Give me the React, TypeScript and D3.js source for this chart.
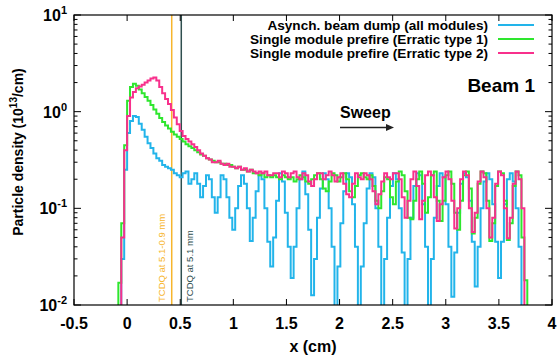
import React from 'react';
import * as d3 from 'd3';

const BIN_START = -0.11;
const BIN_WIDTH = 0.0275;

const asyncDump = [
  0, 0, 0.03, 0.25, 0.6, 0.8, 0.9, 0.88, 0.75, 0.65,
  0.55, 0.47, 0.42, 0.37, 0.33, 0.31, 0.28, 0.27, 0.26, 0.25,
  0.23, 0.22, 0.21, 0.23, 0.24, 0.18, 0.2, 0.23, 0.18, 0.13,
  0.17, 0.22, 0.2, 0.13, 0.09, 0.13, 0.22, 0.2, 0.13, 0.08,
  0.06, 0.1, 0.17, 0.22, 0.18, 0.1, 0.046, 0.08, 0.15, 0.22,
  0.2, 0.1, 0.045, 0.025, 0.05, 0.12, 0.23, 0.19, 0.09, 0.04,
  0.019, 0.04, 0.1, 0.2, 0.24, 0.14, 0.06, 0.0126, 0.03, 0.08,
  0.16, 0.23, 0.2, 0.1, 0.04, 0.005, 0.025, 0.07, 0.15, 0.23,
  0.21, 0.11, 0.04, 0.005, 0.025, 0.07, 0.16, 0.23, 0.21, 0.1,
  0.04, 0.005, 0.03, 0.08, 0.17, 0.23, 0.2, 0.1, 0.035, 0.005,
  0.03, 0.08, 0.17, 0.23, 0.22, 0.11, 0.04, 0.005, 0.03, 0.08,
  0.17, 0.23, 0.21, 0.11, 0.04, 0.0122, 0.035, 0.09, 0.18, 0.23,
  0.21, 0.12, 0.045, 0.0155, 0.04, 0.1, 0.19, 0.23, 0.2, 0.11,
  0.045, 0.019, 0.045, 0.11, 0.2, 0.23, 0.19, 0.1, 0.04, 0,
  0,
];

const erratic1 = [
  0, 0.017, 0.07, 0.45, 1.3, 1.8, 1.95, 1.85, 1.7, 1.55,
  1.42, 1.3, 1.17, 1.05, 0.95, 0.86, 0.78, 0.72, 0.67, 0.62,
  0.58, 0.55, 0.52, 0.49, 0.46, 0.44, 0.42, 0.4, 0.38, 0.36,
  0.35, 0.33, 0.32, 0.31, 0.3, 0.3, 0.29, 0.29, 0.28, 0.28,
  0.27, 0.26, 0.27, 0.25, 0.25, 0.24, 0.25, 0.23, 0.23, 0.22,
  0.23, 0.21, 0.22, 0.21, 0.22, 0.21, 0.2, 0.22, 0.21, 0.2,
  0.21, 0.19, 0.2, 0.22, 0.21, 0.19, 0.18, 0.2, 0.22, 0.23,
  0.2, 0.16, 0.15, 0.19, 0.23, 0.22, 0.19, 0.21, 0.23, 0.2,
  0.15, 0.13, 0.17, 0.22, 0.23, 0.21, 0.2, 0.22, 0.17, 0.12,
  0.1, 0.15, 0.21, 0.2, 0.13, 0.11, 0.19, 0.24, 0.22, 0.15,
  0.08, 0.077, 0.12, 0.2, 0.24, 0.18, 0.09, 0.13, 0.22, 0.24,
  0.12, 0.074, 0.12, 0.22, 0.24, 0.18, 0.09, 0.06, 0.12, 0.22,
  0.24, 0.16, 0.055, 0.08, 0.18, 0.24, 0.23, 0.12, 0.046, 0.07,
  0.17, 0.24, 0.23, 0.12, 0.047, 0.07, 0.17, 0.24, 0.22, 0.05,
  0.018,
];

const erratic2 = [
  0, 0, 0.05, 0.4, 0.9, 1.4, 1.6, 1.75, 1.82, 1.9,
  2.0, 2.1, 2.2, 2.25, 2.1, 1.8, 1.55, 1.35, 1.2, 1.04,
  0.87, 0.74, 0.63, 0.56, 0.52, 0.49, 0.46, 0.43, 0.4, 0.37,
  0.35, 0.33, 0.32, 0.3, 0.3, 0.31, 0.29, 0.28, 0.29, 0.27,
  0.27, 0.26, 0.27, 0.25, 0.26, 0.24, 0.25, 0.24, 0.23, 0.24,
  0.23, 0.24, 0.22, 0.22, 0.23, 0.23, 0.21, 0.24, 0.23, 0.21,
  0.23, 0.24, 0.21, 0.2, 0.23, 0.22, 0.19, 0.17, 0.2, 0.23,
  0.23, 0.2, 0.22, 0.24, 0.22, 0.19, 0.21, 0.23, 0.18, 0.14,
  0.13, 0.18, 0.23, 0.21, 0.2, 0.23, 0.22, 0.2, 0.15, 0.11,
  0.14, 0.19, 0.23, 0.21, 0.2, 0.23, 0.23, 0.2, 0.13, 0.08,
  0.12, 0.2, 0.24, 0.17, 0.077, 0.12, 0.22, 0.24, 0.22, 0.13,
  0.074, 0.11, 0.21, 0.24, 0.2, 0.12, 0.062, 0.1, 0.2, 0.24,
  0.22, 0.1, 0.057, 0.09, 0.19, 0.24, 0.21, 0.1, 0.05, 0.08,
  0.18, 0.24, 0.22, 0.1, 0.049, 0.08, 0.18, 0.24, 0.2, 0.1,
  0,
];

const xTicks = [-0.5, 0, 0.5, 1, 1.5, 2, 2.5, 3, 3.5, 4];
const yDecades = [-2, -1, 0, 1];
const legendLabels = [
  'Asynch. beam dump (all modules)',
  'Single module prefire (Erratic type 1)',
  'Single module prefire (Erratic type 2)',
];
const seriesColors = ['#22b4ea', '#2ee62e', '#f8308c'];
const TCDQ_POS = 0.51;
const TCDQ_SHIFTED = 0.42;

const FONT = "'Liberation Sans', Arial, Helvetica, sans-serif";

export default function App() {
  const W = 559;
  const H = 356;
  const L = 74, R = 552, T = 15, B = 305;

  const x = d3.scaleLinear().domain([-0.5, 4]).range([L, R]);
  const y = d3.scaleLog().domain([0.01, 10]).range([B, T]);

  const stepPath = (vals: number[]) => {
    const pts: [number, number][] = vals.map((v, i) => [BIN_START + i * BIN_WIDTH, v]);
    pts.push([BIN_START + vals.length * BIN_WIDTH, 0]);
    const line = d3
      .line<[number, number]>()
      .x((d) => x(d[0]))
      .y((d) => y(Math.max(d[1], 0.001)))
      .curve(d3.curveStepAfter);
    return line(pts) || '';
  };

  const series = [asyncDump, erratic1, erratic2];

  const minorTicks: number[] = [];
  [-2, -1, 0].forEach((d) => {
    for (let k = 2; k <= 9; k++) minorTicks.push(k * Math.pow(10, d));
  });

  return (
    <div style={{ position: 'fixed', left: 0, top: 0 }}>
      <svg width={W} height={H} style={{ display: 'block', background: '#fff' }} fontFamily={FONT}>
        <defs>
          <clipPath id="plotClip">
            <rect x={L} y={T} width={R - L} height={B - T} />
          </clipPath>
        </defs>

        {/* vertical TCDQ lines */}
        <line x1={x(TCDQ_SHIFTED)} x2={x(TCDQ_SHIFTED)} y1={T} y2={B} stroke="#f7b52c" strokeWidth={1.5} />
        <line x1={x(TCDQ_POS)} x2={x(TCDQ_POS)} y1={T} y2={B} stroke="#2f4f4f" strokeWidth={1.5} />
        <text
          transform={`translate(${x(TCDQ_SHIFTED) - 6.5},${B - 3}) rotate(-90)`}
          fontSize={9.5}
          fill="#f7b52c"
        >
          TCDQ at 5.1-0.9 mm
        </text>
        <text
          transform={`translate(${x(TCDQ_POS) + 12},${B - 3}) rotate(-90)`}
          fontSize={9.5}
          fill="#2f4f4f"
        >
          TCDQ at 5.1 mm
        </text>

        {/* data */}
        <g clipPath="url(#plotClip)">
          {series.map((s, i) => (
            <path key={i} d={stepPath(s)} fill="none" stroke={seriesColors[i]} strokeWidth={2} strokeLinejoin="miter" />
          ))}
        </g>

        {/* frame */}
        <rect x={L} y={T} width={R - L} height={B - T} fill="none" stroke="#000" strokeWidth={1.2} />

        {/* x ticks */}
        {xTicks.map((t) => (
          <g key={'xt' + t}>
            <line x1={x(t)} x2={x(t)} y1={B} y2={B - 6} stroke="#000" />
            <line x1={x(t)} x2={x(t)} y1={T} y2={T + 6} stroke="#000" />
            <text x={x(t)} y={329} textAnchor="middle" fontSize={16} fontWeight="bold">
              {String(t)}
            </text>
          </g>
        ))}

        {/* y ticks */}
        {yDecades.map((d) => (
          <g key={'yt' + d}>
            <line x1={L} x2={L + 7} y1={y(Math.pow(10, d))} y2={y(Math.pow(10, d))} stroke="#000" />
            <line x1={R} x2={R - 7} y1={y(Math.pow(10, d))} y2={y(Math.pow(10, d))} stroke="#000" />
            <text x={67} y={y(Math.pow(10, d)) + 6} textAnchor="end" fontSize={16} fontWeight="bold">
              <tspan>10</tspan>
              <tspan dy={-7} fontSize={11}>{String(d)}</tspan>
            </text>
          </g>
        ))}
        {minorTicks.map((v, i) => (
          <g key={'ym' + i}>
            <line x1={L} x2={L + 3.5} y1={y(v)} y2={y(v)} stroke="#000" />
            <line x1={R} x2={R - 3.5} y1={y(v)} y2={y(v)} stroke="#000" />
          </g>
        ))}

        {/* axis titles */}
        <text x={313} y={352} textAnchor="middle" fontSize={16} fontWeight="bold">
          x (cm)
        </text>
        <text transform="translate(23,152) rotate(-90)" textAnchor="middle" fontSize={14} fontWeight="bold">
          <tspan>Particle density (10</tspan>
          <tspan dy={-6} fontSize={10}>13</tspan>
          <tspan dy={6}>/cm)</tspan>
        </text>

        {/* legend */}
        {legendLabels.map((lab, i) => (
          <g key={'lg' + i}>
            <text x={488} y={29.5 + i * 14} textAnchor="end" fontSize={13.6} fontWeight="bold">
              {lab}
            </text>
            <line x1={498} x2={534} y1={25 + i * 14} y2={25 + i * 14} stroke={seriesColors[i]} strokeWidth={2} />
          </g>
        ))}

        {/* annotations */}
        <text x={535} y={92} textAnchor="end" fontSize={19} fontWeight="bold">
          Beam 1
        </text>
        <text x={340} y={118} fontSize={16} fontWeight="bold">
          Sweep
        </text>
        <line x1={340} x2={386} y1={127.5} y2={127.5} stroke="#222" strokeWidth={1.5} />
        <path d="M386,124 L394,127.5 L386,131 Z" fill="#222" />
      </svg>
    </div>
  );
}
